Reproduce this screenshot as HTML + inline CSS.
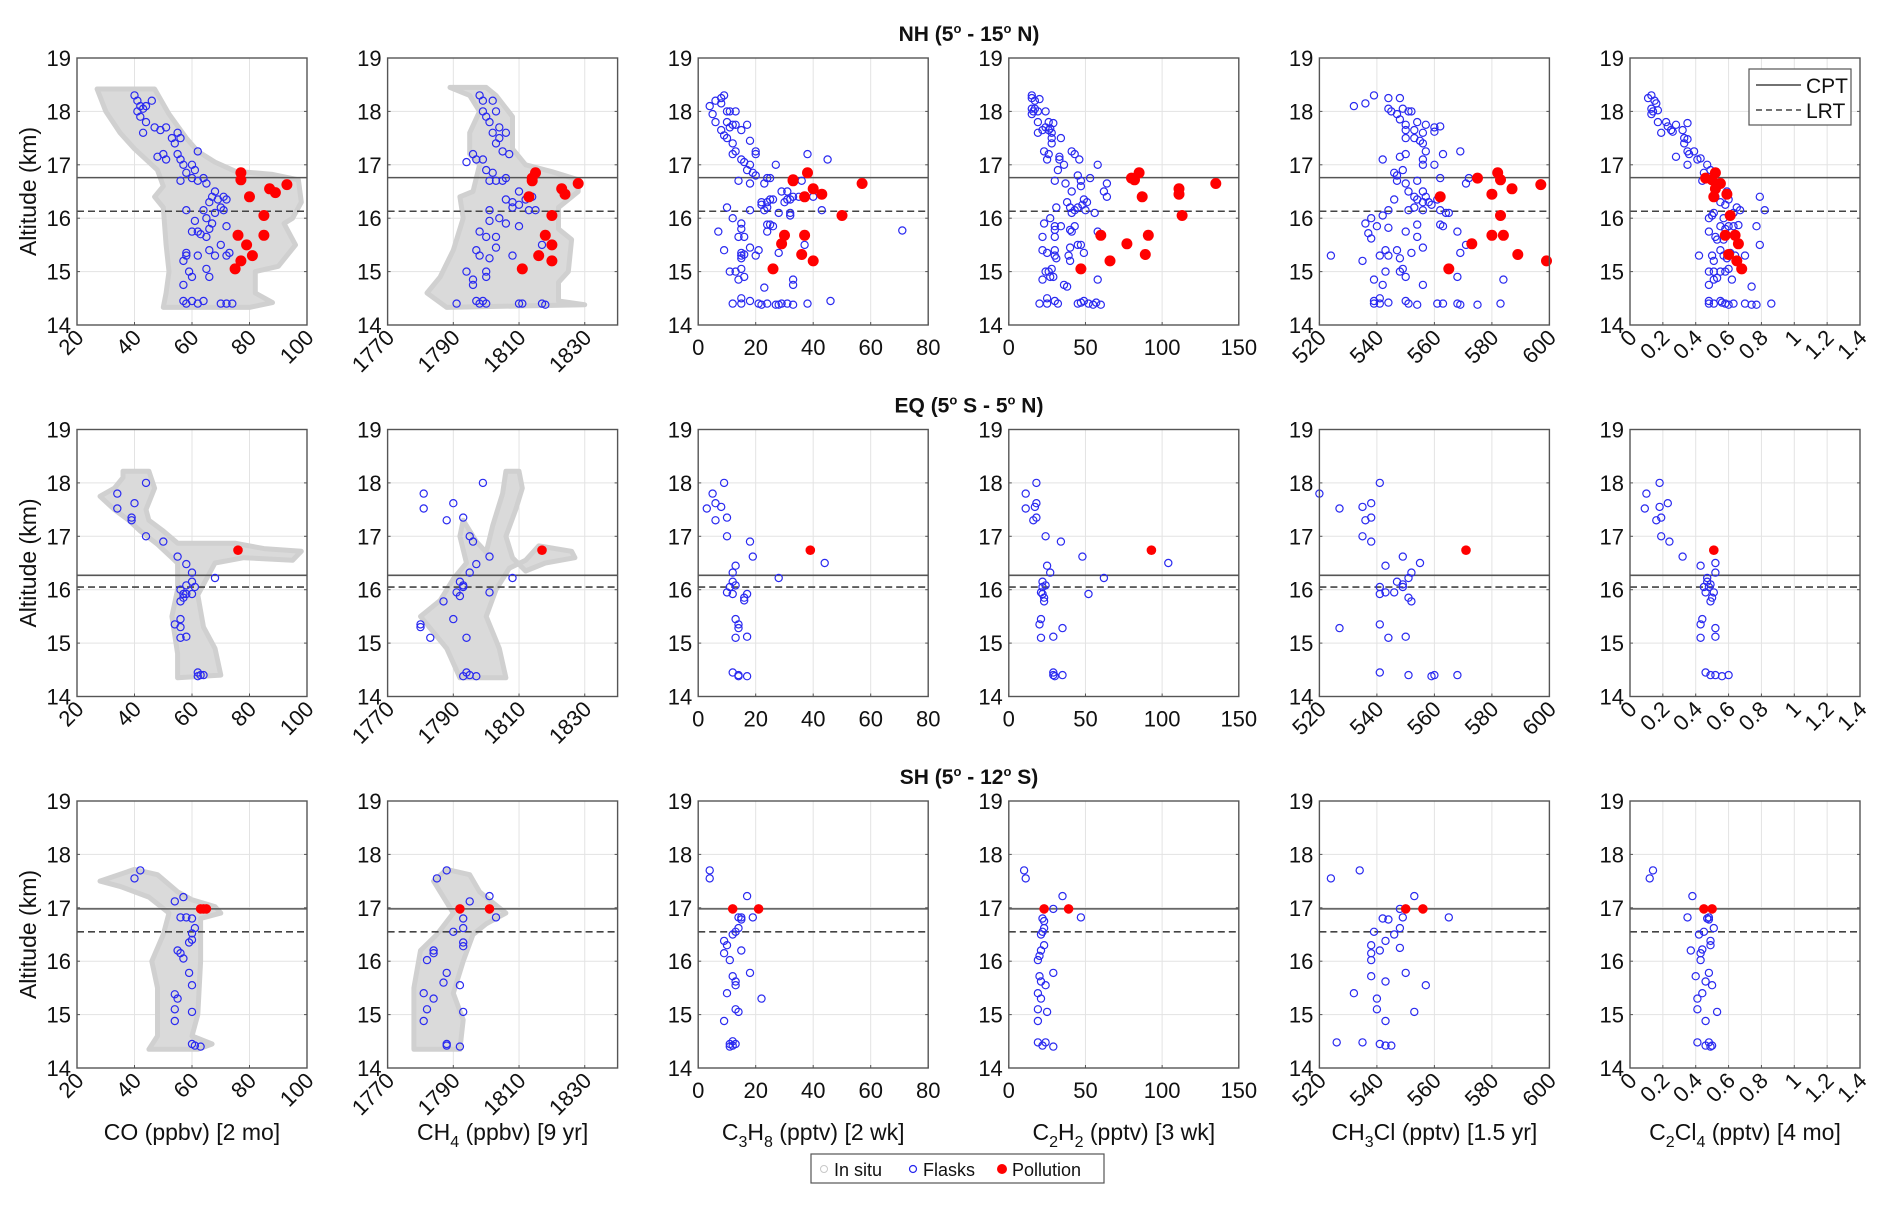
<!DOCTYPE html>
<html><head><meta charset="utf-8"><title>Tracer profiles</title>
<style>
html,body{margin:0;padding:0;background:#fff;}
svg{display:block;font-family:"Liberation Sans",Arial,sans-serif;}
</style></head>
<body>
<svg id="fig" width="1892" height="1208" viewBox="0 0 1892 1208" xmlns="http://www.w3.org/2000/svg">
<rect width="1892" height="1208" fill="#fff"/>
<g id="titles"></g>
<g id="panels"></g>
<g id="toplegend">
  <rect x="1749" y="69" width="102" height="56" fill="#fff" stroke="#555" stroke-width="1.2"/>
  <line x1="1756" y1="85" x2="1801" y2="85" stroke="#444" stroke-width="1.5"/>
  <text x="1806" y="93" font-size="21" fill="#111">CPT</text>
  <line x1="1756" y1="110" x2="1801" y2="110" stroke="#444" stroke-width="1.5" stroke-dasharray="6,4"/>
  <text x="1806" y="118" font-size="21" fill="#111">LRT</text>
</g>
<g id="botlegend">
  <rect x="811" y="1154" width="293" height="29" fill="#fff" stroke="#555" stroke-width="1.2"/>
  <circle cx="824" cy="1169" r="3.5" fill="none" stroke="#c8c8c8" stroke-width="1"/>
  <text x="834" y="1176" font-size="18" fill="#111">In situ</text>
  <circle cx="913" cy="1169" r="3.5" fill="none" stroke="#2525ee" stroke-width="1.2"/>
  <text x="923" y="1176" font-size="18" fill="#111">Flasks</text>
  <circle cx="1002" cy="1169" r="5" fill="#f00"/>
  <text x="1012" y="1176" font-size="18" fill="#111">Pollution</text>
</g>
</svg>
<script>
// ---------- axes config (data) ----------
const speciesNames = ["co","ch4","c3h8","c2h2","ch3cl","c2cl4"];
const xDomains = [[20,100],[1770,1840],[0,80],[0,150],[520,600],[0,1.4]];
const xTicks = [[20,40,60,80,100],[1770,1790,1810,1830],[0,20,40,60,80],[0,50,100,150],[520,540,560,580,600],[0,0.2,0.4,0.6,0.8,1,1.2,1.4]];
const xTickRotated = [true,true,false,false,true,true];
const yTicks = [14,15,16,17,18,19];
const rowTitles = ["NH","EQ","SH"];
const cptAlt = [16.76,16.27,16.98];
const lrtAlt = [16.13,16.05,16.55];

// ---------- in-situ envelopes [value, altitude] ----------
const insituCO_NH = [[27,18.42],[47,18.42],[52,17.95],[58,17.5],[62,17.25],[68,17.05],[75,16.88],[88,16.82],[97,16.72],[98,16.3],[95,16.0],[92,15.9],[96,15.5],[90,15.1],[82,15.0],[82,14.6],[88,14.42],[80,14.33],[50,14.33],[51,14.6],[52,15.0],[51,15.5],[50,16.2],[47,16.4],[50,16.6],[48,16.9],[40,17.3],[35,17.6],[30,18.0],[27,18.42]];
const insituCH4_NH = [[1789,18.45],[1800,18.45],[1803,18.3],[1808,17.9],[1808,17.3],[1812,17.0],[1820,16.87],[1828,16.72],[1828,16.5],[1822,16.2],[1822,15.8],[1826,15.6],[1825,15.0],[1822,14.8],[1822,14.45],[1830,14.38],[1788,14.33],[1782,14.6],[1786,14.9],[1790,15.4],[1793,16.0],[1792,16.4],[1796,16.5],[1798,17.0],[1795,17.2],[1795,17.6],[1798,18.0],[1795,18.3]];
const insituCO_EQ = [[36,18.22],[45,18.22],[47,17.9],[44,17.5],[45,17.3],[50,17.1],[55,16.87],[75,16.87],[85,16.77],[98,16.72],[95,16.55],[78,16.6],[68,16.5],[65,16.2],[62,15.9],[64,15.3],[68,14.9],[70,14.4],[55,14.35],[55,14.8],[53,15.5],[55,16.0],[55,16.5],[48,16.85],[42,17.1],[38,17.3],[33,17.5],[28,17.75],[33,17.9],[36,18.1]];
const insituCH4_EQ = [[1780,15.5],[1788,14.9],[1792,14.35],[1806,14.35],[1804,14.9],[1800,15.5],[1803,16.0],[1807,16.4],[1812,16.55],[1816,16.82],[1826,16.72],[1827,16.6],[1818,16.5],[1812,16.35],[1808,16.6],[1806,17.0],[1809,17.5],[1811,17.9],[1810,18.22],[1806,18.22],[1805,17.8],[1802,17.2],[1800,16.7],[1797,16.9],[1793,17.3],[1792,17.0],[1794,16.5],[1790,16.2],[1786,15.8],[1780,15.5]];
const insituCO_SH = [[28,17.5],[40,17.72],[48,17.62],[55,17.3],[60,17.15],[68,17.02],[70,16.9],[63,16.8],[63,16.0],[62,15.0],[60,14.6],[67,14.45],[62,14.35],[45,14.35],[48,14.6],[48,15.5],[46,16.0],[50,16.5],[52,16.9],[45,17.2],[35,17.4],[28,17.5]];
const insituCH4_SH = [[1784,17.5],[1788,17.72],[1795,17.62],[1798,17.3],[1802,17.1],[1806,16.9],[1800,16.7],[1796,16.5],[1793,16.0],[1790,15.4],[1793,14.9],[1792,14.35],[1778,14.35],[1778,15.5],[1780,16.2],[1785,16.5],[1790,16.9],[1786,17.3],[1784,17.5]];

// ---------- flasks ----------
const flaskCO_NH = [[40,18.3],[41,18.2],[42,18.1],[41,18.0],[43,18.05],[44,18.1],[46,18.2],[42,17.9],[44,17.8],[47,17.7],[43,17.6],[49,17.65],[51,17.7],[53,17.5],[55,17.6],[56,17.5],[54,17.4],[48,17.15],[50,17.2],[51,17.1],[55,17.2],[56,17.1],[57,17.0],[62,17.25],[60,17.0],[61,16.9],[58,16.85],[56,16.7],[60,16.75],[62,16.7],[64,16.75],[65,16.65],[68,16.5],[67,16.4],[69,16.35],[71,16.4],[72,16.35],[66,16.3],[70,16.2],[64,16.15],[68,16.1],[71,16.15],[58,16.15],[61,15.95],[65,16.0],[67,15.9],[72,15.85],[60,15.75],[62,15.75],[63,15.7],[66,15.8],[65,15.65],[70,15.5],[73,15.35],[58,15.35],[57,15.2],[58,15.3],[66,15.4],[68,15.3],[72,15.3],[62,15.3],[59,15.0],[60,14.9],[57,14.75],[65,15.05],[66,14.9],[60,14.45],[62,14.4],[64,14.45],[58,14.4],[70,14.4],[72,14.4],[74,14.4],[57,14.45]];
const flaskCH4_NH = [[1798,18.3],[1799,18.2],[1802,18.2],[1799,18.0],[1800,17.9],[1803,18.0],[1801,17.8],[1804,17.7],[1802,17.6],[1806,17.6],[1803,17.4],[1804,17.5],[1805,17.25],[1807,17.2],[1796,17.2],[1797,17.1],[1799,17.1],[1794,17.05],[1800,16.9],[1802,16.85],[1801,16.7],[1803,16.7],[1805,16.7],[1806,16.75],[1810,16.5],[1806,16.35],[1808,16.3],[1810,16.25],[1812,16.35],[1814,16.4],[1813,16.15],[1815,16.15],[1801,16.15],[1808,16.2],[1804,16.0],[1801,15.95],[1798,15.75],[1800,15.65],[1803,15.65],[1806,15.9],[1810,15.85],[1797,15.4],[1798,15.3],[1803,15.45],[1801,15.25],[1808,15.3],[1794,15.0],[1796,14.85],[1800,15.0],[1800,14.9],[1796,14.75],[1791,14.4],[1797,14.45],[1798,14.4],[1799,14.45],[1800,14.4],[1810,14.4],[1811,14.4],[1817,14.4],[1818,14.38],[1817,15.5]];
const flaskC3H8_NH = [[4,18.1],[6,18.2],[8,18.25],[9,18.3],[5,17.95],[8,18.15],[10,18.0],[11,18.0],[13,18.0],[6,17.8],[10,17.8],[12,17.75],[11,17.7],[13,17.75],[17,17.75],[8,17.65],[9,17.55],[10,17.5],[12,17.4],[15,17.65],[18,17.45],[12,17.2],[13,17.25],[20,17.25],[20,17.2],[15,17.1],[16,17.05],[17,16.9],[18,17.0],[19,16.85],[20,16.8],[14,16.7],[18,16.65],[23,16.65],[24,16.75],[25,16.75],[27,17.0],[38,17.2],[45,17.1],[29,16.5],[31,16.5],[30,16.3],[31,16.35],[32,16.35],[33,16.4],[35,16.4],[36,16.7],[40,16.4],[22,16.3],[22,16.25],[24,16.3],[25,16.35],[26,16.35],[23,16.15],[24,16.2],[28,16.1],[32,16.1],[32,16.05],[43,16.15],[10,16.2],[18,16.15],[12,16.0],[15,15.9],[15,15.8],[14,15.65],[16,15.65],[24,15.88],[25,15.88],[26,15.85],[24,15.75],[7,15.75],[71,15.77],[9,15.4],[15,15.35],[15,15.3],[15,15.25],[16,15.32],[18,15.45],[21,15.4],[20,15.3],[28,15.35],[37,15.5],[11,15.0],[13,15.0],[15,15.05],[14,14.85],[16,14.9],[23,14.7],[33,14.85],[33,14.75],[12,14.4],[15,14.4],[15,14.5],[18,14.45],[21,14.4],[22,14.38],[24,14.4],[27,14.38],[28,14.38],[29,14.4],[31,14.4],[33,14.38],[38,14.4],[46,14.45]];
const flaskC2H2_NH = [[15,18.3],[15,18.25],[17,18.2],[20,18.23],[15,18.05],[16,18.0],[17,18.05],[19,18.0],[24,18.0],[15,17.95],[19,17.8],[26,17.8],[29,17.78],[24,17.7],[22,17.65],[27,17.68],[26,17.65],[28,17.6],[19,17.6],[28,17.5],[28,17.4],[34,17.5],[41,17.25],[43,17.2],[46,17.1],[23,17.25],[26,17.2],[33,17.15],[33,17.1],[25,17.1],[32,16.9],[36,17.0],[58,17.0],[45,16.8],[47,16.7],[53,16.75],[64,16.65],[30,16.7],[37,16.65],[41,16.5],[47,16.6],[49,16.35],[51,16.3],[56,16.1],[62,16.5],[64,16.4],[48,16.25],[38,16.3],[40,16.2],[41,16.1],[43,16.15],[45,16.2],[50,16.15],[31,16.2],[27,16.0],[23,15.9],[30,15.85],[30,15.78],[34,15.85],[40,15.78],[41,15.75],[43,15.85],[58,15.75],[22,15.65],[30,15.65],[45,15.5],[40,15.45],[22,15.4],[25,15.35],[30,15.4],[30,15.3],[31,15.25],[39,15.3],[40,15.2],[49,15.35],[47,15.5],[24,15.0],[26,15.0],[28,15.05],[27,14.9],[29,14.9],[22,14.85],[36,14.75],[38,14.72],[58,14.85],[20,14.4],[25,14.4],[25,14.5],[30,14.45],[32,14.4],[45,14.4],[47,14.42],[49,14.45],[52,14.4],[55,14.38],[57,14.42],[60,14.38]];
const flaskCH3Cl_NH = [[532,18.1],[536,18.15],[539,18.3],[544,18.25],[548,18.25],[544,18.05],[545,18.0],[549,18.05],[547,17.95],[552,18.0],[551,18.0],[548,17.85],[550,17.75],[554,17.8],[557,17.75],[560,17.7],[562,17.72],[550,17.65],[553,17.65],[556,17.6],[560,17.62],[550,17.5],[553,17.5],[555,17.45],[556,17.4],[557,17.25],[563,17.2],[569,17.25],[542,17.1],[548,17.15],[550,17.2],[556,17.1],[556,17.0],[560,17.0],[546,16.85],[547,16.8],[549,16.9],[547,16.7],[550,16.65],[554,16.7],[562,16.75],[572,16.75],[571,16.65],[551,16.5],[556,16.5],[553,16.4],[557,16.4],[554,16.35],[556,16.3],[558,16.3],[559,16.25],[561,16.35],[546,16.35],[544,16.15],[551,16.15],[553,16.2],[556,16.15],[562,16.15],[565,16.1],[564,16.1],[538,16.0],[542,16.05],[536,15.9],[540,15.85],[537,15.72],[538,15.62],[544,15.82],[550,15.75],[554,15.88],[554,15.65],[562,15.88],[563,15.85],[568,15.75],[571,15.5],[524,15.3],[535,15.2],[541,15.3],[543,15.4],[544,15.3],[547,15.4],[548,15.25],[552,15.35],[556,15.45],[569,15.35],[539,14.85],[542,14.75],[543,15.0],[548,15.0],[549,15.05],[550,14.9],[556,14.75],[568,14.9],[584,14.85],[539,14.4],[539,14.45],[541,14.5],[541,14.4],[544,14.42],[550,14.45],[551,14.4],[554,14.38],[561,14.4],[563,14.4],[568,14.4],[569,14.38],[575,14.38],[583,14.4]];
const flaskC2Cl4_NH = [[0.11,18.25],[0.13,18.3],[0.15,18.2],[0.16,18.15],[0.13,18.05],[0.14,18.0],[0.17,18.02],[0.13,17.95],[0.17,17.8],[0.22,17.8],[0.23,17.72],[0.25,17.65],[0.26,17.62],[0.28,17.75],[0.19,17.6],[0.35,17.78],[0.32,17.65],[0.33,17.5],[0.35,17.48],[0.33,17.4],[0.35,17.25],[0.36,17.2],[0.39,17.25],[0.28,17.15],[0.35,17.0],[0.41,17.1],[0.43,17.12],[0.47,17.0],[0.45,16.85],[0.49,16.9],[0.44,16.7],[0.5,16.75],[0.54,16.65],[0.59,16.5],[0.6,16.35],[0.52,16.4],[0.55,16.3],[0.58,16.25],[0.65,16.2],[0.67,16.15],[0.63,16.1],[0.79,16.4],[0.82,16.15],[0.51,16.1],[0.48,16.0],[0.5,16.05],[0.57,16.0],[0.55,15.85],[0.58,15.8],[0.6,15.85],[0.63,15.85],[0.66,15.87],[0.77,15.85],[0.48,15.75],[0.52,15.65],[0.53,15.6],[0.57,15.6],[0.79,15.5],[0.55,15.4],[0.57,15.3],[0.59,15.25],[0.61,15.35],[0.64,15.3],[0.7,15.3],[0.42,15.3],[0.5,15.3],[0.51,15.2],[0.48,15.0],[0.51,15.0],[0.55,15.0],[0.58,15.0],[0.6,15.05],[0.51,14.85],[0.53,14.88],[0.62,14.85],[0.74,14.72],[0.48,14.75],[0.48,14.45],[0.48,14.4],[0.51,14.4],[0.55,14.45],[0.56,14.42],[0.58,14.4],[0.6,14.38],[0.63,14.4],[0.7,14.4],[0.74,14.38],[0.77,14.38],[0.86,14.4]];

const flaskCO_EQ = [[34,17.8],[34,17.52],[40,17.62],[44,18.0],[39,17.35],[39,17.3],[44,17.0],[50,16.9],[55,16.62],[58,16.48],[60,16.32],[68,16.22],[60,16.15],[58,16.08],[61,16.05],[56,16.0],[58,15.92],[57,15.92],[60,15.92],[56,15.78],[57,15.85],[56,15.45],[54,15.35],[56,15.3],[56,15.1],[58,15.12],[62,14.45],[63,14.4],[62,14.38],[64,14.4]];
const flaskCH4_EQ = [[1781,17.8],[1781,17.52],[1790,17.62],[1799,18.0],[1788,17.3],[1793,17.35],[1795,17.0],[1796,16.9],[1801,16.62],[1797,16.48],[1795,16.32],[1808,16.22],[1792,16.15],[1793,16.08],[1793,16.05],[1791,15.95],[1792,15.88],[1787,15.78],[1801,15.95],[1790,15.45],[1780,15.35],[1780,15.3],[1783,15.1],[1794,15.1],[1794,14.45],[1795,14.4],[1793,14.38],[1797,14.38]];
const flaskC3H8_EQ = [[3,17.52],[5,17.8],[6,17.62],[8,17.55],[9,18.0],[6,17.3],[10,17.35],[10,17.0],[18,16.9],[19,16.62],[13,16.45],[12,16.32],[28,16.22],[12,16.15],[11,16.05],[13,16.08],[10,15.95],[12,15.92],[17,15.92],[16,15.8],[16,15.85],[13,15.45],[14,15.35],[14,15.28],[13,15.1],[17,15.12],[12,14.45],[14,14.38],[14,14.4],[17,14.38],[44,16.5]];
const flaskC2H2_EQ = [[11,17.8],[11,17.52],[17,17.55],[18,17.62],[18,18.0],[16,17.3],[18,17.35],[24,17.0],[34,16.9],[48,16.62],[25,16.45],[27,16.32],[62,16.22],[22,16.15],[22,16.05],[24,16.08],[21,15.95],[52,15.92],[22,15.92],[23,15.78],[23,15.85],[21,15.45],[20,15.35],[35,15.28],[21,15.1],[29,15.12],[29,14.45],[30,14.38],[29,14.4],[35,14.4],[104,16.5]];
const flaskCH3Cl_EQ = [[520,17.8],[527,17.52],[535,17.55],[538,17.62],[541,18.0],[536,17.3],[538,17.35],[535,17.0],[538,16.9],[543,16.45],[549,16.62],[555,16.5],[552,16.32],[551,16.22],[547,16.15],[549,16.05],[549,16.1],[541,16.05],[541,15.92],[543,15.95],[546,15.95],[551,15.85],[552,15.78],[541,15.35],[527,15.28],[544,15.1],[550,15.12],[541,14.45],[551,14.4],[559,14.38],[560,14.4],[568,14.4]];
const flaskC2Cl4_EQ = [[0.09,17.52],[0.1,17.8],[0.18,17.55],[0.19,17.35],[0.18,18.0],[0.23,17.62],[0.16,17.3],[0.19,17.0],[0.24,16.9],[0.32,16.62],[0.43,16.45],[0.52,16.5],[0.52,16.32],[0.47,16.22],[0.47,16.15],[0.48,16.05],[0.49,16.1],[0.45,16.05],[0.46,15.95],[0.51,15.95],[0.5,15.85],[0.49,15.78],[0.44,15.45],[0.43,15.35],[0.52,15.28],[0.43,15.1],[0.52,15.12],[0.46,14.45],[0.49,14.4],[0.52,14.4],[0.56,14.38],[0.6,14.4]];

const flaskCO_SH = [[42,17.7],[40,17.55],[54,17.12],[57,17.2],[56,16.82],[58,16.82],[60,16.8],[61,16.62],[60,16.52],[60,16.4],[59,16.35],[55,16.2],[56,16.15],[57,16.05],[59,15.78],[60,15.55],[54,15.38],[55,15.3],[54,15.1],[60,15.05],[54,14.88],[60,14.45],[61,14.42],[63,14.4]];
const flaskCH4_SH = [[1788,17.7],[1785,17.55],[1801,17.22],[1795,17.12],[1793,16.8],[1793,16.62],[1790,16.55],[1793,16.35],[1793,16.28],[1784,16.2],[1784,16.15],[1782,16.02],[1788,15.78],[1792,15.55],[1787,15.6],[1784,15.3],[1781,15.4],[1782,15.1],[1781,14.88],[1793,15.05],[1788,14.45],[1792,14.4],[1788,14.42],[1803,16.82]];
const flaskC3H8_SH = [[4,17.7],[4,17.55],[17,17.22],[19,16.82],[14,16.82],[15,16.78],[14,16.62],[13,16.55],[12,16.5],[9,16.38],[10,16.3],[9,16.15],[11,16.02],[15,16.2],[18,15.78],[13,15.62],[13,15.55],[12,15.72],[10,15.4],[22,15.3],[13,15.1],[14,15.05],[9,14.88],[11,14.45],[12,14.5],[12,14.42],[13,14.45],[11,14.4],[15,16.82]];
const flaskC2H2_SH = [[10,17.7],[11,17.55],[35,17.22],[47,16.82],[29,16.98],[22,16.8],[23,16.75],[23,16.62],[22,16.55],[21,16.5],[23,16.3],[21,16.2],[20,16.1],[19,16.02],[29,15.78],[20,15.72],[21,15.62],[24,15.55],[19,15.4],[21,15.3],[19,15.1],[25,15.05],[19,14.88],[19,14.48],[24,14.48],[22,14.42],[29,14.4]];
const flaskCH3Cl_SH = [[524,17.55],[534,17.7],[553,17.22],[542,16.8],[544,16.78],[549,16.82],[565,16.82],[548,16.62],[539,16.55],[546,16.5],[543,16.38],[538,16.3],[541,16.2],[538,16.15],[538,16.02],[548,16.25],[550,15.78],[538,15.72],[543,15.62],[557,15.55],[532,15.4],[540,15.3],[540,15.1],[553,15.05],[543,14.88],[526,14.48],[535,14.48],[541,14.45],[543,14.42],[545,14.42],[548,16.98]];
const flaskC2Cl4_SH = [[0.12,17.55],[0.14,17.7],[0.38,17.22],[0.35,16.82],[0.47,16.8],[0.48,16.78],[0.48,16.82],[0.51,16.62],[0.45,16.55],[0.42,16.5],[0.49,16.38],[0.49,16.3],[0.37,16.2],[0.44,16.22],[0.43,16.15],[0.43,16.02],[0.48,15.78],[0.4,15.72],[0.46,15.62],[0.5,15.55],[0.44,15.4],[0.41,15.3],[0.41,15.1],[0.53,15.05],[0.46,14.88],[0.41,14.48],[0.48,14.48],[0.46,14.42],[0.5,14.42],[0.49,14.4]];

// ---------- pollution ----------
const pollCO_NH = [[77,16.85],[77,16.72],[80,16.4],[87,16.55],[89,16.48],[93,16.63],[85,16.05],[85,15.68],[76,15.68],[79,15.5],[81,15.3],[77,15.2],[75,15.05]];
const pollCH4_NH = [[1815,16.85],[1814,16.75],[1814,16.7],[1813,16.4],[1823,16.55],[1824,16.45],[1828,16.65],[1820,16.05],[1818,15.68],[1820,15.5],[1816,15.3],[1820,15.2],[1811,15.05]];
const pollC3H8_NH = [[33,16.72],[33,16.7],[38,16.85],[37,16.4],[40,16.55],[43,16.45],[50,16.05],[57,16.65],[30,15.68],[29,15.52],[37,15.68],[36,15.32],[40,15.2],[26,15.05]];
const pollC2H2_NH = [[80,16.75],[82,16.72],[85,16.85],[87,16.4],[111,16.55],[111,16.45],[113,16.05],[135,16.65],[60,15.68],[77,15.52],[91,15.68],[89,15.32],[66,15.2],[47,15.05]];
const pollCH3Cl_NH = [[575,16.75],[582,16.85],[583,16.72],[580,16.45],[587,16.55],[597,16.63],[562,16.4],[583,16.05],[580,15.68],[584,15.68],[573,15.52],[589,15.32],[599,15.2],[565,15.05]];
const pollC2Cl4_NH = [[0.46,16.75],[0.5,16.72],[0.52,16.85],[0.55,16.65],[0.52,16.55],[0.51,16.4],[0.59,16.45],[0.61,16.05],[0.58,15.68],[0.64,15.68],[0.66,15.52],[0.6,15.32],[0.65,15.2],[0.68,15.05]];
const pollCO_EQ = [[76,16.74]];
const pollCH4_EQ = [[1817,16.74]];
const pollC3H8_EQ = [[39,16.74]];
const pollC2H2_EQ = [[93,16.74]];
const pollCH3Cl_EQ = [[571,16.74]];
const pollC2Cl4_EQ = [[0.51,16.74]];
const pollCO_SH = [[63,16.98],[64,16.98],[65,16.98]];
const pollCH4_SH = [[1792,16.98],[1801,16.98]];
const pollC3H8_SH = [[12,16.98],[21,16.98]];
const pollC2H2_SH = [[23,16.98],[39,16.98]];
const pollCH3Cl_SH = [[550,16.98],[556,16.98]];
const pollC2Cl4_SH = [[0.45,16.98],[0.5,16.98]];

const insitu = [[insituCO_NH,insituCH4_NH],[insituCO_EQ,insituCH4_EQ],[insituCO_SH,insituCH4_SH]];
const flasks = [[flaskCO_NH,flaskCH4_NH,flaskC3H8_NH,flaskC2H2_NH,flaskCH3Cl_NH,flaskC2Cl4_NH],
                [flaskCO_EQ,flaskCH4_EQ,flaskC3H8_EQ,flaskC2H2_EQ,flaskCH3Cl_EQ,flaskC2Cl4_EQ],
                [flaskCO_SH,flaskCH4_SH,flaskC3H8_SH,flaskC2H2_SH,flaskCH3Cl_SH,flaskC2Cl4_SH]];
const pollution = [[pollCO_NH,pollCH4_NH,pollC3H8_NH,pollC2H2_NH,pollCH3Cl_NH,pollC2Cl4_NH],
                   [pollCO_EQ,pollCH4_EQ,pollC3H8_EQ,pollC2H2_EQ,pollCH3Cl_EQ,pollC2Cl4_EQ],
                   [pollCO_SH,pollCH4_SH,pollC3H8_SH,pollC2H2_SH,pollCH3Cl_SH,pollC2Cl4_SH]];

// ---------- layout ----------
const NS = "http://www.w3.org/2000/svg";
const L = {left0:77, dx:310.6, w:230, top0:58, dy:371.5, h:267};
function mk(tag, attrs, parent){const e=document.createElementNS(NS,tag);for(const k in attrs)e.setAttribute(k,attrs[k]);if(parent)parent.appendChild(e);return e;}
function fmt(v){return String(Math.round(v*10)/10);}

const panels = document.getElementById("panels");
const titles = document.getElementById("titles");
const titleParts = [["NH (5","o"," - 15","o"," N)"],["EQ (5","o"," S - 5","o"," N)"],["SH (5","o"," - 12","o"," S)"]];

for(let r=0;r<3;r++){
  const top = L.top0 + r*L.dy, bot = top + L.h;
  const yS = a => bot - (a-14)/5*L.h;
  const t = mk("text",{x:969,y:top-17,"font-size":21,"font-weight":"bold","text-anchor":"middle",fill:"#111"},titles);
  
  
  titleParts[r].forEach((p,i)=>{const ts=mk("tspan",i%2? {dy:-8,"font-size":13}:{dy:i?8:0},t);ts.textContent=p;});
  const yl = mk("text",{x:0,y:0,"font-size":23,"text-anchor":"middle",fill:"#111",transform:`translate(36,${top+L.h/2}) rotate(-90)`},panels);
  
  
  yl.textContent = "Altitude (km)";

  for(let c=0;c<6;c++){
    const left = L.left0 + c*L.dx, right = left + L.w;
    const [x0,x1] = xDomains[c];
    const xS = v => left + (v-x0)/(x1-x0)*L.w;
    const g = mk("g",{},panels);
    
    
    mk("rect",{x:left,y:top,width:L.w,height:L.h,fill:"#fff"},g);
    xTicks[c].forEach(v=>{const x=xS(v); if(x>left+1&&x<right-1) mk("line",{x1:x,y1:top,x2:x,y2:bot,stroke:"#e3e3e3","stroke-width":1},g);});
    yTicks.forEach(v=>{const y=yS(v); if(y>top+1&&y<bot-1) mk("line",{x1:left,y1:y,x2:right,y2:y,stroke:"#e3e3e3","stroke-width":1},g);});
    if(c<2){
      const pts = insitu[r][c].map(p=>xS(p[0]).toFixed(1)+","+yS(p[1]).toFixed(1)).join(" ");
      const poly = mk("polygon",{points:pts,fill:"#dadada",stroke:"#d0d0d0","stroke-width":5,"stroke-linejoin":"round"},g);
      
      
    }
    const cl = mk("line",{x1:left,x2:right,y1:yS(cptAlt[r]),y2:yS(cptAlt[r]),stroke:"#555","stroke-width":1.6},g);
    
    
    const ll = mk("line",{x1:left,x2:right,y1:yS(lrtAlt[r]),y2:yS(lrtAlt[r]),stroke:"#444","stroke-width":1.6,"stroke-dasharray":"7,4"},g);
    
    
    flasks[r][c].forEach(p=>{
      const ci = mk("circle",{cx:xS(p[0]).toFixed(1),cy:yS(p[1]).toFixed(1),r:3.6,fill:"none",stroke:"#2a2af0","stroke-width":1.2},g);
      
      
    });
    pollution[r][c].forEach(p=>{
      const ci = mk("circle",{cx:xS(p[0]).toFixed(1),cy:yS(p[1]).toFixed(1),r:r==0?5.5:4.8,fill:"#ff0000"},g);
      
      
    });
    mk("rect",{x:left,y:top,width:L.w,height:L.h,fill:"none",stroke:"#555","stroke-width":1.4},g);
    yTicks.forEach(v=>{
      const y=yS(v);
      mk("line",{x1:left,x2:left+3,y1:y,y2:y,stroke:"#555"},g);
      mk("line",{x1:right,x2:right-3,y1:y,y2:y,stroke:"#555"},g);
      const tl = mk("text",{x:left-6,y:y+8,"font-size":22,"text-anchor":"end",fill:"#111"},g);
      
      
      tl.textContent = v;
    });
    xTicks[c].forEach(v=>{
      const x=xS(v);
      mk("line",{x1:x,x2:x,y1:bot,y2:bot-3,stroke:"#555"},g);
      const tl = xTickRotated[c]
        ? mk("text",{x:0,y:0,"font-size":22,"text-anchor":"end",fill:"#111",transform:`translate(${x+8},${bot+14}) rotate(-45)`},g)
        : mk("text",{x:x,y:bot+30,"font-size":22,"text-anchor":"middle",fill:"#111"},g);
      
      
      tl.textContent = fmt(v);
    });
  }
}
const xTitleParts = [[["CO (ppbv)  [2 mo]",0]],[["CH",0],["4",1],[" (ppbv) [9 yr]",0]],[["C",0],["3",1],["H",0],["8",1],[" (pptv) [2 wk]",0]],
  [["C",0],["2",1],["H",0],["2",1],[" (pptv) [3 wk]",0]],[["CH",0],["3",1],["Cl (pptv) [1.5 yr]",0]],[["C",0],["2",1],["Cl",0],["4",1],[" (pptv) [4 mo]",0]]];
for(let c=0;c<6;c++){
  const cx = L.left0 + c*L.dx + L.w/2;
  const t = mk("text",{x:cx,y:1140,"font-size":23,"text-anchor":"middle",fill:"#111","xml:space":"preserve"},panels);
  
  
  let sub=false;
  xTitleParts[c].forEach(([s,isSub])=>{
    const attrs={};
    if(isSub&&!sub){attrs.dy=7;attrs["font-size"]=16;sub=true;}
    else if(!isSub&&sub){attrs.dy=-7;sub=false;}
    else if(isSub){attrs["font-size"]=16;}
    const ts=mk("tspan",attrs,t); ts.textContent=s;
  });
}
</script>
</body></html>
